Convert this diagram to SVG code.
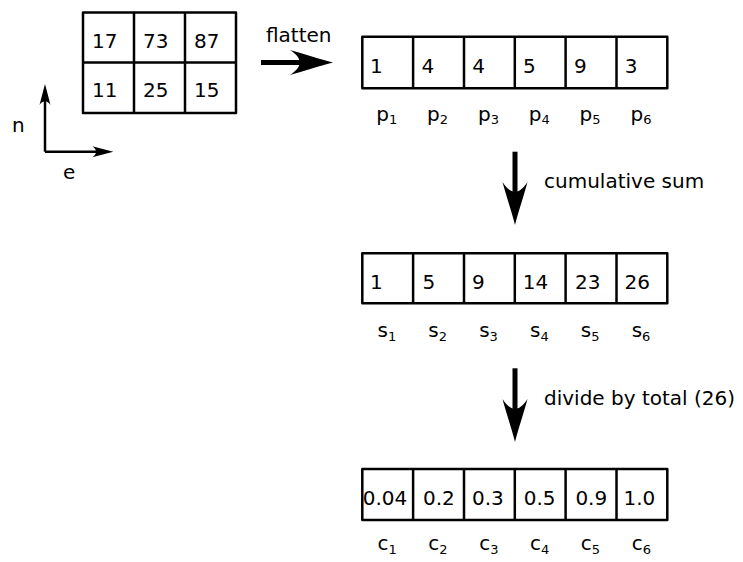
<svg xmlns="http://www.w3.org/2000/svg" width="743" height="562" viewBox="0 0 743 562">
<style>
  .cell { fill: #ffffff; stroke: #000000; stroke-width: 2.5; stroke-linejoin: round; }
  .grid { fill: none; stroke: #000000; stroke-width: 2.5; }
  text { font-family: "DejaVu Sans", "Liberation Sans", sans-serif; font-size: 20px; fill: #000000; }
  .sub { font-size: 13px; }
  .big { fill: none; stroke: #000000; stroke-width: 5; marker-end: url(#headL); }
  .small { fill: none; stroke: #000000; stroke-width: 2.5; marker-end: url(#headS); }
</style>
<defs>
  <marker id="headL" markerUnits="userSpaceOnUse" viewBox="-45 -14 47 28" markerWidth="47" markerHeight="28" refX="-22" refY="0" orient="auto" overflow="visible">
    <path d="M0,0 C-12,-3 -30,-9 -43,-12.5 C-30,-4 -30,4 -43,12.5 C-30,9 -12,3 0,0 Z" fill="#000000"/>
  </marker>
  <marker id="headS" markerUnits="userSpaceOnUse" viewBox="-24 -8 26 16" markerWidth="26" markerHeight="16" refX="-10" refY="0" orient="auto" overflow="visible">
    <path d="M0,0 L-21,-5.5 C-16,-2 -16,2 -21,5.5 Z" fill="#000000"/>
  </marker>
</defs>

<g id="grid2d">
  <rect class="cell" x="83" y="12.5" width="153" height="100.5"/>
  <line class="grid" x1="134" y1="12.5" x2="134" y2="113"/>
  <line class="grid" x1="185" y1="12.5" x2="185" y2="113"/>
  <line class="grid" x1="83" y1="62.5" x2="236" y2="62.5"/>
  <text x="92" y="48.3">17</text>
  <text x="143" y="48.3">73</text>
  <text x="194" y="48.3">87</text>
  <text x="92" y="96.7">11</text>
  <text x="143" y="96.7">25</text>
  <text x="194" y="96.7">15</text>
</g>

<g id="axes">
  <text x="12" y="131.7">n</text>
  <text x="63" y="179">e</text>
</g>

<g id="arrayP">
  <rect class="cell" x="362.3" y="36.7" width="305" height="51.6"/>
  <line class="grid" x1="413.1" y1="36.7" x2="413.1" y2="88.3"/>
  <line class="grid" x1="464" y1="36.7" x2="464" y2="88.3"/>
  <line class="grid" x1="514.8" y1="36.7" x2="514.8" y2="88.3"/>
  <line class="grid" x1="565.6" y1="36.7" x2="565.6" y2="88.3"/>
  <line class="grid" x1="616.5" y1="36.7" x2="616.5" y2="88.3"/>
  <text x="370" y="73.3">1</text>
  <text x="421.5" y="73.3">4</text>
  <text x="472.3" y="73.3">4</text>
  <text x="523" y="73.3">5</text>
  <text x="574" y="73.3">9</text>
  <text x="624.8" y="73.3">3</text>
  <text x="376.3" y="120.5">p<tspan class="sub" dy="3.5">1</tspan></text>
  <text x="427.1" y="120.5">p<tspan class="sub" dy="3.5">2</tspan></text>
  <text x="478" y="120.5">p<tspan class="sub" dy="3.5">3</tspan></text>
  <text x="528.8" y="120.5">p<tspan class="sub" dy="3.5">4</tspan></text>
  <text x="579.6" y="120.5">p<tspan class="sub" dy="3.5">5</tspan></text>
  <text x="630.5" y="120.5">p<tspan class="sub" dy="3.5">6</tspan></text>
</g>

<g id="arrayS">
  <rect class="cell" x="362.3" y="253.3" width="305" height="50"/>
  <line class="grid" x1="413.1" y1="253.3" x2="413.1" y2="303.3"/>
  <line class="grid" x1="464" y1="253.3" x2="464" y2="303.3"/>
  <line class="grid" x1="514.8" y1="253.3" x2="514.8" y2="303.3"/>
  <line class="grid" x1="565.6" y1="253.3" x2="565.6" y2="303.3"/>
  <line class="grid" x1="616.5" y1="253.3" x2="616.5" y2="303.3"/>
  <text x="370" y="289.3">1</text>
  <text x="422.5" y="289.3">5</text>
  <text x="472" y="289.3">9</text>
  <text x="522.8" y="289.3">14</text>
  <text x="575" y="289.3">23</text>
  <text x="624.5" y="289.3">26</text>
  <text x="377.5" y="337">s<tspan class="sub" dy="3.5">1</tspan></text>
  <text x="428.3" y="337">s<tspan class="sub" dy="3.5">2</tspan></text>
  <text x="479.2" y="337">s<tspan class="sub" dy="3.5">3</tspan></text>
  <text x="530" y="337">s<tspan class="sub" dy="3.5">4</tspan></text>
  <text x="580.8" y="337">s<tspan class="sub" dy="3.5">5</tspan></text>
  <text x="631.7" y="337">s<tspan class="sub" dy="3.5">6</tspan></text>
</g>

<g id="arrayC">
  <rect class="cell" x="362.3" y="469" width="305" height="51"/>
  <line class="grid" x1="413.1" y1="469" x2="413.1" y2="520"/>
  <line class="grid" x1="464" y1="469" x2="464" y2="520"/>
  <line class="grid" x1="514.8" y1="469" x2="514.8" y2="520"/>
  <line class="grid" x1="565.6" y1="469" x2="565.6" y2="520"/>
  <line class="grid" x1="616.5" y1="469" x2="616.5" y2="520"/>
  <text x="362.7" y="505">0.04</text>
  <text x="423" y="505">0.2</text>
  <text x="472" y="505">0.3</text>
  <text x="523.7" y="505">0.5</text>
  <text x="575.4" y="505">0.9</text>
  <text x="623.5" y="505">1.0</text>
  <text x="377.5" y="550">c<tspan class="sub" dy="3.5">1</tspan></text>
  <text x="428.3" y="550">c<tspan class="sub" dy="3.5">2</tspan></text>
  <text x="479.2" y="550">c<tspan class="sub" dy="3.5">3</tspan></text>
  <text x="530" y="550">c<tspan class="sub" dy="3.5">4</tspan></text>
  <text x="580.8" y="550">c<tspan class="sub" dy="3.5">5</tspan></text>
  <text x="631.7" y="550">c<tspan class="sub" dy="3.5">6</tspan></text>
</g>

<g id="connectors">
  <path class="big" d="M261,62.5 L311,62.5"/>
  <text x="266" y="42.3">flatten</text>
  <path class="big" d="M515,151.7 L515,203"/>
  <text x="544" y="187.7">cumulative sum</text>
  <path class="big" d="M515,368.3 L515,420"/>
  <text x="544" y="405">divide by total (26)</text>
  <path class="small" d="M45,151.7 L45,94"/>
  <path class="small" d="M45,151.7 L103.3,151.7"/>
</g>
</svg>
